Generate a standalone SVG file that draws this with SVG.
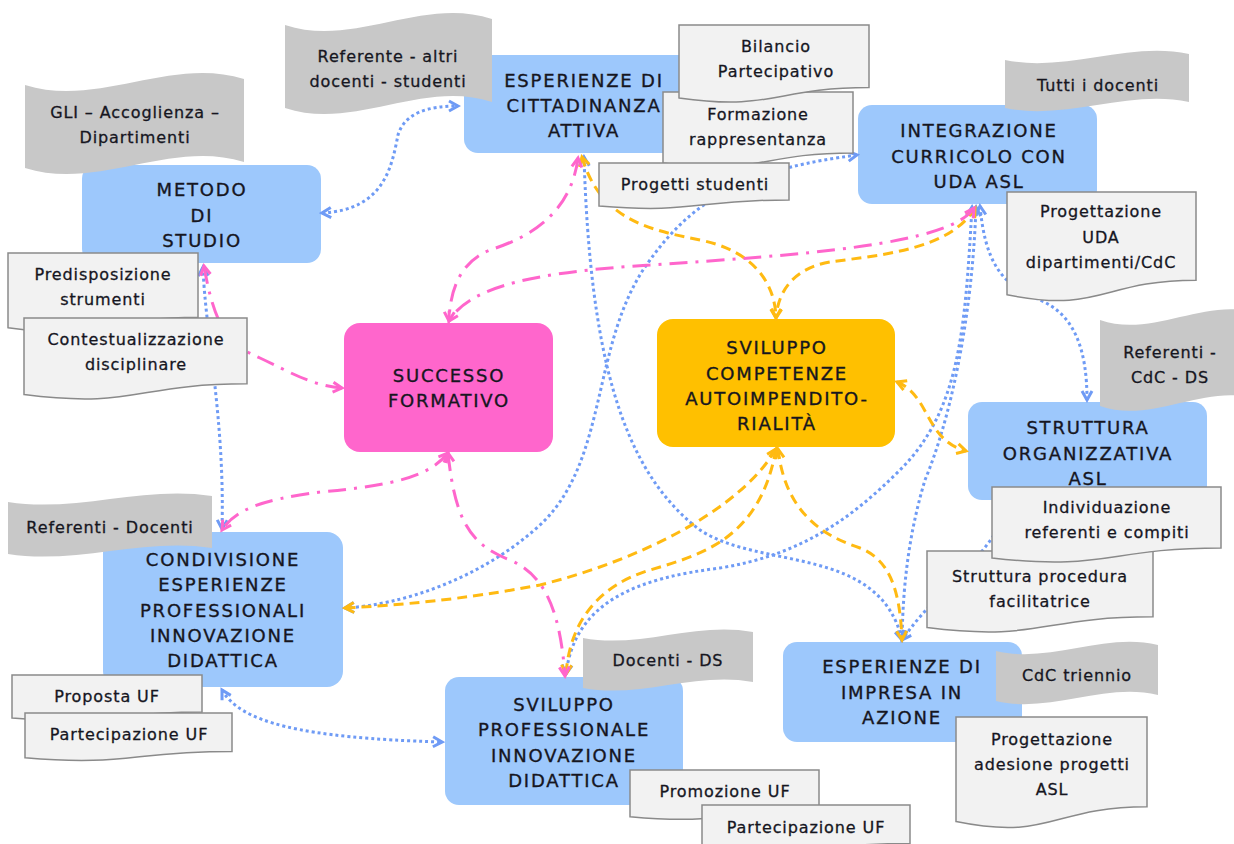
<svg xmlns="http://www.w3.org/2000/svg" width="1234" height="844" viewBox="0 0 1234 844">
<style>
.blue{fill:#9DC8FC}
.pink{fill:#FF66CC}
.orange{fill:#FFC000}
.ban{fill:#C8C8C8}
.doc{fill:#F2F2F2;stroke:#8A8A8A;stroke-width:1.5}
.n{font-family:"DejaVu Sans",Verdana,sans-serif;font-size:18px;letter-spacing:1.8px;fill:#16161F;stroke:#16161F;stroke-width:0.35;text-anchor:middle}
.t{font-family:"DejaVu Sans",Verdana,sans-serif;font-size:16px;letter-spacing:0.9px;fill:#16161F;stroke:#16161F;stroke-width:0.3;text-anchor:middle}
.cb{fill:none;stroke:#6F9BF5;stroke-width:3;stroke-dasharray:3 3;marker-start:url(#ab);marker-end:url(#ab)}
.co{fill:none;stroke:#FFBA12;stroke-width:3;stroke-dasharray:10 6;marker-start:url(#ao);marker-end:url(#ao)}
.cp{fill:none;stroke:#FF66CC;stroke-width:3;stroke-dasharray:18 8 3 8;marker-start:url(#ap);marker-end:url(#ap)}
</style>
<defs>
<marker id="ab" viewBox="-2 -2 14 14" refX="9" refY="5" markerWidth="14" markerHeight="14" markerUnits="userSpaceOnUse" orient="auto-start-reverse"><path d="M0,0 L9,5 L0,10" fill="none" stroke="#6F9BF5" stroke-width="3"/></marker>
<marker id="ao" viewBox="-2 -2 14 14" refX="9" refY="5" markerWidth="14" markerHeight="14" markerUnits="userSpaceOnUse" orient="auto-start-reverse"><path d="M0,0 L9,5 L0,10" fill="none" stroke="#FFBA12" stroke-width="3"/></marker>
<marker id="ap" viewBox="-2 -2 14 14" refX="9" refY="5" markerWidth="14" markerHeight="14" markerUnits="userSpaceOnUse" orient="auto-start-reverse"><path d="M0,0 L9,5 L0,10" fill="none" stroke="#FF66CC" stroke-width="3"/></marker>
</defs>
<rect width="1234" height="844" fill="#FFFFFF"/>

<g id="metodo"><rect class="blue" x="82" y="165" width="239" height="98" rx="14"/>
<text class="n"><tspan x="202" y="196">METODO</tspan><tspan x="202" y="222">DI</tspan><tspan x="202" y="247">STUDIO</tspan></text></g>
<g id="cittadinanza"><rect class="blue" x="464" y="55" width="238" height="98" rx="14"/>
<text class="n"><tspan x="584" y="87">ESPERIENZE DI</tspan><tspan x="584" y="112">CITTADINANZA</tspan><tspan x="584" y="137">ATTIVA</tspan></text></g>
<g id="integrazione"><rect class="blue" x="858" y="105" width="239" height="99" rx="14"/>
<text class="n"><tspan x="979" y="137">INTEGRAZIONE</tspan><tspan x="979" y="163">CURRICOLO CON</tspan><tspan x="979" y="188">UDA ASL</tspan></text></g>
<g id="struttura"><rect class="blue" x="968" y="402" width="239" height="98" rx="14"/>
<text class="n"><tspan x="1088" y="434">STRUTTURA</tspan><tspan x="1088" y="460">ORGANIZZATIVA</tspan><tspan x="1088" y="485">ASL</tspan></text></g>
<g id="impresa"><rect class="blue" x="783" y="642" width="239" height="100" rx="14"/>
<text class="n"><tspan x="902" y="673">ESPERIENZE DI</tspan><tspan x="902" y="699">IMPRESA IN</tspan><tspan x="902" y="724">AZIONE</tspan></text></g>
<g id="sviluppo-prof"><rect class="blue" x="445" y="677" width="238" height="128" rx="14"/>
<text class="n"><tspan x="564" y="711">SVILUPPO</tspan><tspan x="564" y="736">PROFESSIONALE</tspan><tspan x="564" y="762">INNOVAZIONE</tspan><tspan x="564" y="787">DIDATTICA</tspan></text></g>
<g id="condivisione"><rect class="blue" x="103" y="532" width="240" height="155" rx="16"/>
<text class="n"><tspan x="223" y="566">CONDIVISIONE</tspan><tspan x="223" y="591">ESPERIENZE</tspan><tspan x="223" y="617">PROFESSIONALI</tspan><tspan x="223" y="642">INNOVAZIONE</tspan><tspan x="223" y="667">DIDATTICA</tspan></text></g>
<g id="successo"><rect class="pink" x="344" y="323" width="209" height="129" rx="16"/>
<text class="n"><tspan x="449" y="382">SUCCESSO</tspan><tspan x="449" y="407">FORMATIVO</tspan></text></g>
<g id="autoimpr"><rect class="orange" x="657" y="319" width="238" height="128" rx="16"/>
<text class="n"><tspan x="777" y="354">SVILUPPO</tspan><tspan x="777" y="380">COMPETENZE</tspan><tspan x="777" y="405">AUTOIMPENDITO-</tspan><tspan x="777" y="430">RIALITÀ</tspan></text></g>

<g id="connectors">
<path class="cb" d="M322,213 C385,210 392,165 398,135 C405,112 430,106 458,106"/>
<path class="cb" d="M203,267 C205,330 225,420 222,529"/>
<path class="cb" d="M584,157 C590,350 620,470 700,530 C760,570 880,545 902,640"/>
<path class="cb" d="M857,155 C760,168 700,190 650,260 C590,340 610,460 540,525 C480,580 400,605 345,608"/>
<path class="cb" d="M980,206 C985,260 1000,285 1040,300 C1075,315 1087,350 1087,400"/>
<path class="cb" d="M976,207 C972,320 950,420 925,480 C910,530 903,580 902,640"/>
<path class="cb" d="M972,207 C965,330 960,410 900,470 C850,520 800,555 720,568 C640,578 575,600 566,674"/>
<path class="cb" d="M1010,503 C990,560 940,585 902,640"/>
<path class="cb" d="M222,690 C240,722 300,738 442,742"/>
<path class="co" d="M582,157 C600,220 650,230 700,240 C750,250 775,280 776,318"/>
<path class="co" d="M975,208 C950,250 880,255 830,262 C795,268 778,290 776,318"/>
<path class="co" d="M897,382 C930,395 925,440 966,451"/>
<path class="co" d="M776,449 C740,510 640,560 540,585 C460,600 400,605 345,608"/>
<path class="co" d="M776,449 C760,540 700,555 650,570 C600,585 570,620 566,674"/>
<path class="co" d="M778,449 C785,510 820,535 860,548 C890,560 900,590 902,640"/>
<path class="cp" d="M204,266 C215,330 230,345 260,358 C290,372 310,385 342,388"/>
<path class="cp" d="M578,158 C570,220 520,240 490,250 C460,262 450,290 449,321"/>
<path class="cp" d="M974,208 C950,245 800,255 650,265 C540,272 470,285 449,321"/>
<path class="cp" d="M448,453 C430,475 400,485 320,492 C260,500 235,510 222,530"/>
<path class="cp" d="M448,453 C455,520 470,545 510,560 C545,575 560,610 565,676"/>
</g>

<g id="ban-gli"><path class="ban" d="M25,85 C98,108 171,56 244,79 L244,162 C171,139 98,191 25,168 Z"/>
<text class="t"><tspan x="135" y="118">GLI – Accoglienza –</tspan><tspan x="135" y="143">Dipartimenti</tspan></text></g>
<g id="ban-referente"><path class="ban" d="M285,25 C354,48 423,-4 492,19 L492,102 C423,79 354,131 285,108 Z"/>
<text class="t"><tspan x="388" y="62">Referente - altri</tspan><tspan x="388" y="87">docenti - studenti</tspan></text></g>
<g id="ban-tutti"><path class="ban" d="M1005,60 C1066,73 1128,41 1189,54 L1189,102 C1128,89 1066,121 1005,108 Z"/>
<text class="t"><tspan x="1098" y="91">Tutti i docenti</tspan></text></g>
<g id="ban-cdc-ds"><path class="ban" d="M1100,320 C1153,339 1207,295 1260,314 L1260,400 C1207,381 1153,425 1100,406 Z"/>
<text class="t"><tspan x="1170" y="358">Referenti -</tspan><tspan x="1170" y="383">CdC - DS</tspan></text></g>
<g id="ban-ref-docenti"><path class="ban" d="M8,502 C76,513 144,485 212,496 L212,548 C144,537 76,565 8,554 Z"/>
<text class="t"><tspan x="110" y="533">Referenti - Docenti</tspan></text></g>
<g id="ban-docenti-ds"><path class="ban" d="M583,638 C640,649 696,621 753,632 L753,682 C696,671 640,699 583,688 Z"/>
<text class="t"><tspan x="668" y="666">Docenti - DS</tspan></text></g>
<g id="ban-cdc-triennio"><path class="ban" d="M996,651 C1050,664 1104,632 1158,645 L1158,695 C1104,682 1050,714 996,701 Z"/>
<text class="t"><tspan x="1077" y="681">CdC triennio</tspan></text></g>

<g id="doc-formazione"><path class="doc" d="M663,92 H853 V153 C758,153 758,176.2 663,163 Z"/>
<text class="t"><tspan x="758" y="120">Formazione</tspan><tspan x="758" y="145">rappresentanza</tspan></text></g>
<g id="doc-bilancio"><path class="doc" d="M679,25 H869 V87.6 C774,87.6 774,111.4 679,97.9 Z"/>
<text class="t"><tspan x="776" y="52">Bilancio</tspan><tspan x="776" y="77">Partecipativo</tspan></text></g>
<g id="doc-progetti"><path class="doc" d="M599,163 H789 V199.9 C694,199.9 694,214 599,206 Z"/>
<text class="t"><tspan x="695" y="190">Progetti studenti</tspan></text></g>
<g id="doc-uda"><path class="doc" d="M1007,192 H1196 V280.2 C1101.5,280.2 1101.5,313.9 1007,294.7 Z"/>
<text class="t"><tspan x="1101" y="217">Progettazione</tspan><tspan x="1101" y="243">UDA</tspan><tspan x="1101" y="268">dipartimenti/CdC</tspan></text></g>
<g id="doc-predisposizione"><path class="doc" d="M8,253 H198 V317.2 C103,317.2 103,341.6 8,327.7 Z"/>
<text class="t"><tspan x="103" y="280">Predisposizione</tspan><tspan x="103" y="305">strumenti</tspan></text></g>
<g id="doc-contestualizzazione"><path class="doc" d="M24,318 H247 V383.8 C135.5,383.8 135.5,408.9 24,394.6 Z"/>
<text class="t"><tspan x="136" y="345">Contestualizzazione</tspan><tspan x="136" y="370">disciplinare</tspan></text></g>
<g id="doc-struttura-proc"><path class="doc" d="M927,551 H1153 V616.8 C1040,616.8 1040,641.9 927,627.6 Z"/>
<text class="t"><tspan x="1040" y="582">Struttura procedura</tspan><tspan x="1040" y="607">facilitatrice</tspan></text></g>
<g id="doc-individuazione"><path class="doc" d="M992,487 H1221 V548 C1106.5,548 1106.5,571.2 992,558 Z"/>
<text class="t"><tspan x="1107" y="513">Individuazione</tspan><tspan x="1107" y="538">referenti e compiti</tspan></text></g>
<g id="doc-adesione"><path class="doc" d="M956,717 H1147 V806.8 C1051.5,806.8 1051.5,841.1 956,821.6 Z"/>
<text class="t"><tspan x="1052" y="745">Progettazione</tspan><tspan x="1052" y="770">adesione progetti</tspan><tspan x="1052" y="795">ASL</tspan></text></g>
<g id="doc-proposta"><path class="doc" d="M12,675 H202 V711.9 C107,711.9 107,726 12,718 Z"/>
<text class="t"><tspan x="107" y="702">Proposta UF</tspan></text></g>
<g id="doc-partecipazione1"><path class="doc" d="M25,713 H232 V751.5 C128.5,751.5 128.5,766.2 25,757.8 Z"/>
<text class="t"><tspan x="129" y="740">Partecipazione UF</tspan></text></g>
<g id="doc-promozione"><path class="doc" d="M630,770 H819 V810.1 C724.5,810.1 724.5,825.4 630,816.7 Z"/>
<text class="t"><tspan x="725" y="797">Promozione UF</tspan></text></g>
<g id="doc-partecipazione2"><path class="doc" d="M702,805 H910 V843.5 C806,843.5 806,858.2 702,849.8 Z"/>
<text class="t"><tspan x="806" y="833">Partecipazione UF</tspan></text></g>
</svg>
